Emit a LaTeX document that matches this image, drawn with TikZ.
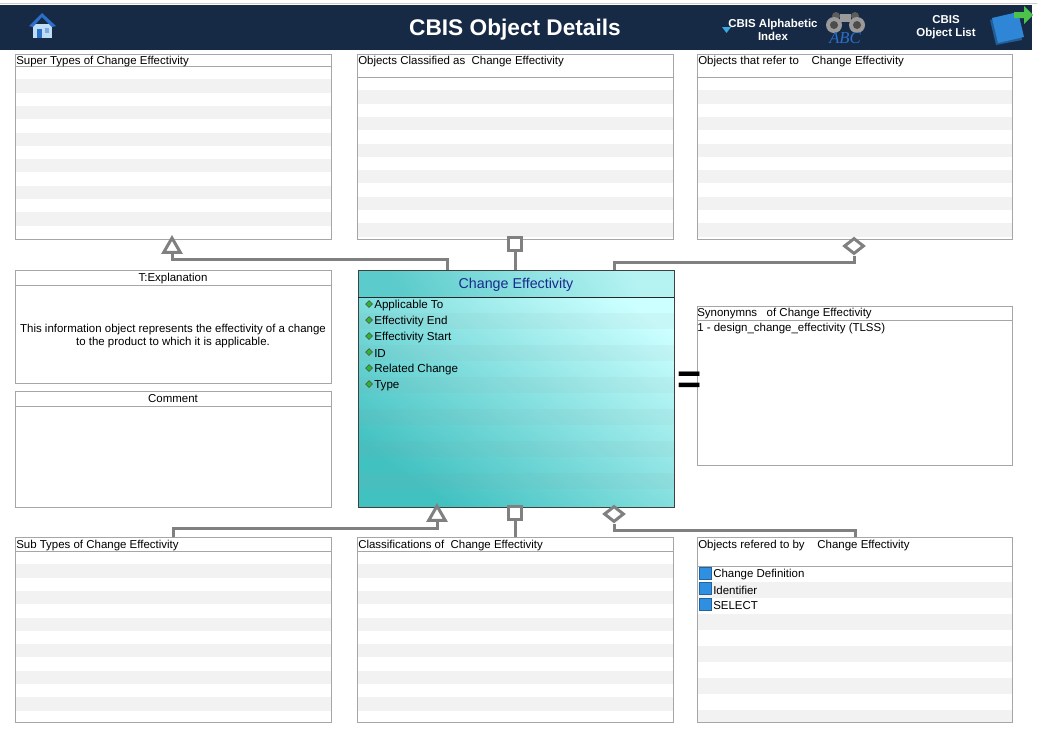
\documentclass[tikz,border=0pt]{standalone}
\usepackage{fontspec}
\setmainfont{Liberation Sans}
\newfontfamily\abcfont{Liberation Serif}
\usetikzlibrary{shapes.geometric}

\newlength\px
\setlength\px{0.75pt}

\definecolor{navy}{HTML}{172A45}
\definecolor{paneline}{HTML}{A6A6A6}
\definecolor{stripe}{HTML}{F2F2F2}
\definecolor{connline}{HTML}{808080}
\definecolor{celight}{HTML}{CCFFFF}
\definecolor{cedark}{HTML}{42C1C1}
\definecolor{ceheadlight}{HTML}{B5F3F3}
\definecolor{ceheaddark}{HTML}{5CCBCB}
\definecolor{cetitle}{HTML}{1A2A8C}
\definecolor{qvblue}{HTML}{2F8FE0}
\definecolor{attrgreen}{HTML}{2DB52D}
\definecolor{homeroof}{HTML}{2A6FC9}
\definecolor{homewall}{HTML}{BFDDF5}
\definecolor{idxblue}{HTML}{3BA7E0}
\definecolor{binogray}{HTML}{9A9A9A}
\definecolor{bookblue}{HTML}{2F86D6}
\definecolor{arrowgreen}{HTML}{4CC24C}

\tikzset{
  pane/.style={draw=paneline, line width=1\px, anchor=north west, inner sep=0pt},
  panerule/.style={draw=paneline, line width=1\px},
  panetext/.style={anchor=west, inner sep=0pt, yshift=-1.5\px, font=\fontsize{8.6}{10}\selectfont},
  hdrtitle/.style={text=white, inner sep=0pt, font=\fontsize{17}{20}\selectfont\bfseries},
  hdrlink/.style={text=white, inner sep=0pt, align=center, font=\fontsize{8.6}{9.75}\selectfont\bfseries},
  conn/.style={draw=connline, line width=3\px},
  endmark/.style={draw=connline, line width=3\px, fill=white, inner sep=0pt},
  tri/.style={endmark, regular polygon, regular polygon sides=3, minimum size=19\px},
  sq/.style={endmark, rectangle, minimum size=13\px},
  dia/.style={endmark, diamond, minimum width=20\px, minimum height=16\px},
  attrmark/.style={diamond, fill=attrgreen, draw=black!70, line width=0.4pt, inner sep=0pt, minimum size=7\px},
  attrtext/.style={panetext, font=\fontsize{8.7}{10}\selectfont},
  qvicon/.style={rectangle, fill=qvblue, draw=qvblue!70!black, line width=0.3pt, inner sep=0pt, minimum size=12\px}
}

\begin{document}
\begin{tikzpicture}[x=0.75pt, y=-0.75pt]
\useasboundingbox (0,0) rectangle (1037,733);

% header band
\draw [black!20, line width=1\px] (0,3) -- (1037,3);
\fill [navy] (0,5) rectangle (1032,50);
\node [hdrtitle] (title) at (515,29.5) {CBIS Object Details};
\node [hdrlink] (alpha) at (773,30) {CBIS Alphabetic\\Index};
\node [hdrlink] (objlist) at (946,27) {CBIS\\Object List};

% home icon
\fill [homewall] (33,24) rectangle (52,38);
\fill [homeroof] (29,26) -- (42,13) -- (56,26) -- (52,27) -- (42,17) -- (33,27) -- cycle;
\fill [homeroof] (37,29) rectangle (42,38);
\fill [homeroof!60] (45,28) rectangle (49,33);

% index icon
\fill [idxblue] (722,27) -- (731,27) -- (726.5,33) -- cycle;
\fill [binogray!60!black] (836,16) circle [radius=4];
\fill [binogray!60!black] (855,16) circle [radius=4];
\fill [binogray] (840,14) rectangle (851,22);
\fill [binogray] (834,25) circle [radius=8];
\fill [binogray] (857,25) circle [radius=8];
\fill [black!70] (834,25) circle [radius=4];
\fill [black!70] (857,25) circle [radius=4];
\node [text=homeroof, inner sep=0pt, font=\abcfont\itshape\fontsize{12.5}{12.5}\selectfont] (abc) at (845,38) {ABC};

% list icon
\fill [bookblue!70!black] (990,20) -- (1016,14) -- (1022,40) -- (996,45) -- cycle;
\fill [bookblue] (992,18) -- (1018,12) -- (1024,37) -- (998,43) -- cycle;
\fill [arrowgreen] (1014,12) -- (1024,12) -- (1024,6) -- (1033,15) -- (1024,24) -- (1024,18) -- (1014,18) -- cycle;

% upper panes
\foreach \k in {1,3,...,11}
  \fill [stripe] (15,{66+\k*13.3}) rectangle (331,{79.3+\k*13.3});
\node [pane, minimum width=316\px, minimum height=185\px] (sup) at (15,54) {};
\draw [panerule] (15,66) -- (331,66);
\node [panetext] (supT) at (16,60) {Super Types of Change Effectivity};

\foreach \k in {1,3,...,11}
  \fill [stripe] (357,{77+\k*13.3}) rectangle (673,{90.3+\k*13.3});
\node [pane, minimum width=316\px, minimum height=185\px] (cls) at (357,54) {};
\draw [panerule] (357,77) -- (673,77);
\node [panetext] (clsT) at (358,60) {Objects Classified as\ \ Change Effectivity};

\foreach \k in {1,3,...,11}
  \fill [stripe] (697,{77+\k*13.3}) rectangle (1012,{90.3+\k*13.3});
\node [pane, minimum width=315\px, minimum height=185\px] (ref) at (697,54) {};
\draw [panerule] (697,77) -- (1012,77);
\node [panetext] (refT) at (698,60) {Objects that refer to\ \ \ \ Change Effectivity};

% explanation and comment
\node [pane, minimum width=316\px, minimum height=113\px] (expl) at (15,270) {};
\draw [panerule] (15,285) -- (331,285);
\node [panetext, anchor=center] (explT) at (173,277) {T:Explanation};
\node [panetext, anchor=center, align=center, font=\fontsize{8.6}{9.75}\selectfont] (explB) at (173,335)
  {This information object represents the effectivity of a change\\to the product to which it is applicable.};

\node [pane, minimum width=316\px, minimum height=116\px] (comm) at (15,391) {};
\draw [panerule] (15,406) -- (331,406);
\node [panetext, anchor=center] (commT) at (173,397) {Comment};

% synonyms
\node [pane, minimum width=315\px, minimum height=159\px] (syn) at (697,306) {};
\draw [panerule] (697,320) -- (1012,320);
\node [panetext] (synT) at (697,312) {Synonymns\ \ \ of Change Effectivity};
\node [panetext] (syn1) at (697,327) {1 - design\_change\_effectivity (TLSS)};
\node [inner sep=0pt, font=\fontsize{31}{31}\selectfont\bfseries] (eq) at (690,383) {=};

% lower panes
\foreach \k in {1,3,...,11}
  \fill [stripe] (15,{551+\k*13.3}) rectangle (331,{564.3+\k*13.3});
\node [pane, minimum width=316\px, minimum height=185\px] (sub) at (15,537) {};
\draw [panerule] (15,551) -- (331,551);
\node [panetext] (subT) at (16,544) {Sub Types of Change Effectivity};

\foreach \k in {1,3,...,11}
  \fill [stripe] (357,{551+\k*13.3}) rectangle (673,{564.3+\k*13.3});
\node [pane, minimum width=316\px, minimum height=185\px] (clf) at (357,537) {};
\draw [panerule] (357,551) -- (673,551);
\node [panetext] (clfT) at (358,544) {Classifications of\ \ Change Effectivity};

\foreach \k in {1,3,...,9}
  \fill [stripe] (697,{566+\k*16}) rectangle (1012,{min(582+\k*16,722)});
\node [pane, minimum width=315\px, minimum height=185\px] (rby) at (697,537) {};
\draw [panerule] (697,566) -- (1012,566);
\node [panetext] (rbyT) at (698,544) {Objects refered to by\ \ \ \ Change Effectivity};
\foreach \o [count=\i] in {Change Definition, Identifier, SELECT} {
  \node [qvicon] (q\i) at (705,{557.5+15.5*\i}) {};
  \node [panetext] (o\i) at (713,{557.5+15.5*\i}) {\o};
}

% central object
\shade [top color=celight, bottom color=cedark, shading angle=-35] (358,270) rectangle (674,507);
\foreach \k in {1,3,...,11}
  \fill [black!40, opacity=0.07] (358,{297+\k*16}) rectangle (674,{313+\k*16});
\shade [top color=ceheadlight, bottom color=ceheaddark, shading angle=-60] (358,270) rectangle (674,297);
\node [draw=black!75, line width=1\px, anchor=north west, inner sep=0pt,
       minimum width=316\px, minimum height=237\px] (ce) at (358,270) {};
\draw [black!85, line width=1\px] (358,297) -- (674,297);
\node [inner sep=0pt, yshift=-1.5\px, text=cetitle, font=\fontsize{10.7}{12}\selectfont] (ceT) at (516,283) {Change Effectivity};
\foreach \a [count=\i] in {Applicable To, Effectivity End, Effectivity Start, ID, Related Change, Type} {
  \node [attrmark] (m\i) at (369,{288+16*\i}) {};
  \node [attrtext] (a\i) at (374,{288+16*\i}) {\a};
}

% connectors
\node [tri] (tSup) at (172,247.5) {};
\coordinate (ceSup) at (447,270);
\draw [conn] (tSup.south) -- ++(0,6) -| (ceSup);

\node [sq] (sqCls) at (515,244) {};
\draw [conn] (sqCls.south) -- (sqCls.south |- ce.north);

\node [dia] (dRef) at (854,246) {};
\coordinate (ceRef) at (614,270);
\draw [conn] (dRef.south) -- ++(0,7) -| (ceRef);

\node [tri] (tSub) at (437,515.5) {};
\draw [conn] (tSub.south) -- ++(0,7) -| (sub.north);

\node [sq] (sqClf) at (515,512.5) {};
\draw [conn] (sqClf.south) -- (sqClf.south |- clf.north);

\node [dia] (dRby) at (614,514) {};
\draw [conn] (dRby.south) -- ++(0,7) -| (rby.north);
\end{tikzpicture}
\end{document}
